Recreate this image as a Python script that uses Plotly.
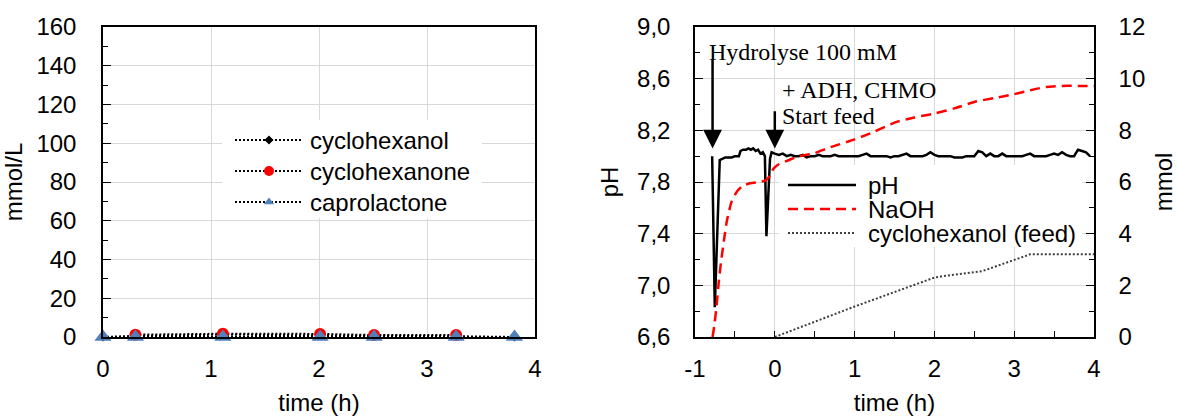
import plotly.graph_objects as go

# ---- left panel: sample analysis (mmol/L) ----
sample_time = [0, 0.30, 1.11, 2.01, 2.51, 3.27, 3.81]
cyclohexanol = [0.0, 0.6, 1.2, 1.0, 0.6, 0.4, 0.0]
cyclohexanone_time = [0.30, 1.11, 2.01, 2.51, 3.27]
cyclohexanone = [1.2, 1.7, 1.6, 1.0, 1.0]
caprolactone = [0, 0, 0, 0, 0, 0, 0]

# ---- right panel: reactor log ----
ph_time = [-0.785, -0.752, -0.69, -0.66, -0.62, -0.58, -0.54, -0.50, -0.45, -0.43,
           -0.40, -0.36, -0.33, -0.30, -0.27, -0.24, -0.21, -0.18, -0.15, -0.124,
           -0.105, -0.06, -0.04, 0.0, 0.05, 0.10, 0.15, 0.20, 0.25, 0.30,
           0.35, 0.40, 0.45, 0.50, 0.55, 0.60, 0.65, 0.70, 0.75, 0.80,
           0.85, 0.90, 0.95, 1.00, 1.05, 1.10, 1.15, 1.20, 1.25, 1.30,
           1.35, 1.40, 1.45, 1.50, 1.55, 1.60, 1.65, 1.70, 1.75, 1.80,
           1.85, 1.90, 1.95, 2.00, 2.05, 2.10, 2.15, 2.20, 2.25, 2.30,
           2.35, 2.40, 2.45, 2.50, 2.55, 2.60, 2.65, 2.70, 2.75, 2.80,
           2.85, 2.90, 2.95, 3.00, 3.05, 3.10, 3.15, 3.20, 3.25, 3.30,
           3.35, 3.40, 3.45, 3.50, 3.55, 3.60, 3.65, 3.70, 3.75, 3.80,
           3.85, 3.90, 3.95]
ph_value = [8.00, 6.83, 7.97, 7.98, 7.99, 7.99, 7.99, 8.00, 8.00, 8.04,
            8.05, 8.05, 8.06, 8.05, 8.06, 8.04, 8.05, 8.02, 8.03, 8.00,
            7.38, 7.98, 8.03, 8.02, 8.01, 8.02, 8.00, 8.01, 8.00, 8.00,
            8.01, 7.99, 8.00, 8.00, 8.01, 8.00, 8.00, 8.00, 8.01, 8.00,
            8.00, 8.00, 8.00, 8.00, 8.00, 8.01, 8.02, 8.00, 8.00, 8.00,
            8.00, 8.00, 7.99, 8.00, 8.00, 8.01, 8.02, 8.00, 8.00, 8.00,
            8.00, 8.01, 8.03, 8.01, 8.00, 8.00, 8.00, 8.00, 7.99, 7.99,
            7.99, 8.00, 8.00, 8.00, 8.04, 8.03, 8.00, 8.02, 8.00, 8.00,
            8.02, 8.00, 8.00, 8.00, 8.00, 8.00, 8.01, 8.02, 8.00, 8.00,
            8.00, 8.00, 8.01, 8.02, 8.01, 8.03, 8.01, 8.00, 8.00, 8.05,
            8.04, 8.03, 8.00]

naoh_time = [-0.78, -0.76, -0.73, -0.70, -0.67, -0.63, -0.60, -0.54, -0.47, -0.40,
             -0.31, -0.20, -0.12, -0.06, -0.02, 0.03, 0.10, 0.20, 0.31, 0.48,
             0.70, 1.00, 1.25, 1.50, 1.75, 2.00, 2.25, 2.50, 2.75, 3.00,
             3.20, 3.40, 3.60, 3.80, 4.00]
naoh_mmol = [0.0, 0.4, 1.2, 2.2, 3.0, 3.9, 4.5, 5.25, 5.65, 5.85,
             5.95, 6.0, 6.05, 6.25, 6.5, 6.65, 6.75, 6.88, 7.0, 7.1,
             7.35, 7.65, 7.95, 8.3, 8.5, 8.65, 8.85, 9.1, 9.25, 9.4,
             9.55, 9.68, 9.72, 9.72, 9.72]

feed_time = [0.0, 1.0, 2.0, 2.1, 2.6, 3.2, 4.0]
feed_mmol = [0.0, 1.18, 2.3, 2.35, 2.55, 3.2, 3.2]

# tick labels
left_x_ticks = [0, 1, 2, 3, 4]
right_x_ticks = [-1, 0, 1, 2, 3, 4]
right_x_labels = ["-1", "0", "1", "2", "3", "4"]

# event labels on the reactor log
events = ["Hydrolyse 100 mM", "+ ADH, CHMO", "Start feed"]

BLUE = "#4F81BD"
RED = "#FF0000"
GRID = "#d9d9d9"
SANS = "Liberation Sans, Arial, sans-serif"
SERIF = "Liberation Serif, Times New Roman, serif"
FS = 24
W, H = 1177, 416

# page geometry (px)
ML, MR, MT, MB = 103, W - 1094, 27, H - 337
PW = W - ML - MR
left_dom = [0, (535 - ML) / PW]
right_dom = [(695 - ML) / PW, 1]

DOT = "2px,2px"
left_styles = [
    dict(name="cyclohexanol", symbol="diamond", color="black", size=7, key_size=7),
    dict(name="cyclohexanone", symbol="circle", color=RED, size=12, key_size=10),
    dict(name="caprolactone", symbol="triangle-up", color=BLUE, size=15, key_size=9),
]
left_series = [(sample_time, cyclohexanol), (cyclohexanone_time, cyclohexanone),
               (sample_time, caprolactone)]

fig = go.Figure()

for st, (xs, ys) in zip(left_styles, left_series):
    fig.add_trace(go.Scatter(
        x=xs, y=ys, name=st["name"], mode="lines+markers",
        line=dict(color="black", width=2, dash=DOT),
        marker=dict(symbol=st["symbol"], size=st["size"], color=st["color"]),
        xaxis="x", yaxis="y", cliponaxis=False, showlegend=False))

right_styles = [
    dict(name="pH", line=dict(color="black", width=2.5)),
    dict(name="NaOH", line=dict(color=RED, width=2.5, dash="10px,6px")),
    dict(name="cyclohexanol (feed)", line=dict(color="#404040", width=2, dash=DOT)),
]

fig.add_trace(go.Scatter(
    x=ph_time, y=ph_value, name="pH", mode="lines", line=right_styles[0]["line"],
    xaxis="x2", yaxis="y2", showlegend=False))
fig.add_trace(go.Scatter(
    x=naoh_time, y=naoh_mmol, name="NaOH", mode="lines",
    line=dict(right_styles[1]["line"], shape="spline", smoothing=0.6),
    xaxis="x2", yaxis="y3", showlegend=False))
fig.add_trace(go.Scatter(
    x=feed_time, y=feed_mmol, name="cyclohexanol (feed)", mode="lines",
    line=right_styles[2]["line"], xaxis="x2", yaxis="y3", showlegend=False,
    cliponaxis=False))

# ---- legend boxes, drawn on a page-pixel overlay axis pair (x3 / y4) ----
def legend_box(x0, x1, y0, y1, key_x0, key_x1, text_x, rows, styles, with_markers):
    fig.add_trace(go.Scatter(
        x=[x0, x1, x1, x0, x0], y=[y0, y0, y1, y1, y0], mode="lines", fill="toself",
        fillcolor="white", line=dict(width=0), xaxis="x3", yaxis="y4",
        showlegend=False, hoverinfo="skip"))
    for ry, st in zip(rows, styles):
        line = st.get("line", dict(color="black", width=2, dash=DOT))
        fig.add_trace(go.Scatter(
            x=[key_x0, key_x1], y=[ry, ry], mode="lines", line=line,
            xaxis="x3", yaxis="y4", showlegend=False, hoverinfo="skip"))
        if with_markers:
            fig.add_trace(go.Scatter(
                x=[(key_x0 + key_x1) / 2], y=[ry], mode="markers",
                marker=dict(symbol=st["symbol"], size=st["key_size"], color=st["color"]),
                xaxis="x3", yaxis="y4", showlegend=False, hoverinfo="skip"))
        fig.add_annotation(x=text_x, y=ry, xref="x3", yref="y4", text=st["name"],
                           xanchor="left", yanchor="middle", showarrow=False,
                           font=dict(family=SANS, size=FS, color="black"))

legend_box(222, 482, 120, 218, 235, 303, 308, [140, 171, 202], left_styles, True)
legend_box(779, 1082, 165, 247, 788, 856, 866, [185, 209, 233], right_styles, False)

axis_common = dict(
    showline=True, linecolor="black", linewidth=1.5, mirror=True,
    showgrid=True, gridcolor=GRID, gridwidth=1, zeroline=False, automargin=False,
    tickfont=dict(family=SANS, size=FS, color="black"),
    title_font=dict(family=SANS, size=FS, color="black"),
)
minor_common = dict(ticks="inside", ticklen=5, tickcolor="black", showgrid=False)

fig.update_layout(
    width=W, height=H,
    margin=dict(l=ML, r=MR, t=MT, b=MB),
    paper_bgcolor="white", plot_bgcolor="rgba(0,0,0,0)",
    separators=", ",
    showlegend=False,
    xaxis=dict(axis_common, domain=left_dom, range=[0, 4],
               tickmode="array", tickvals=left_x_ticks,
               ticks="", ticklabelstandoff=9, anchor="y",
               title=dict(text="time (h)", standoff=18)),
    yaxis=dict(axis_common, domain=[0, 1], range=[0, 160], dtick=20,
               ticks="inside", ticklen=8, tickcolor="black", ticklabelstandoff=20,
               minor=dict(minor_common, dtick=10),
               anchor="x", title=dict(text="mmol/L", standoff=12)),
    xaxis2=dict(axis_common, domain=right_dom, range=[-1, 4],
                tickmode="array", tickvals=right_x_ticks, ticktext=right_x_labels,
                ticks="inside", ticklen=6, tickcolor="black", ticklabelstandoff=9,
                minor=dict(minor_common, tickvals=[-0.5, 0.5, 1.5, 2.5, 3.5], ticklen=6),
                anchor="y2", title=dict(text="time (h)", standoff=18)),
    yaxis2=dict(axis_common, domain=[0, 1], range=[6.6, 9.0], dtick=0.4,
                tick0=6.6, tickformat=".1f",
                ticks="inside", ticklen=8, tickcolor="black", ticklabelstandoff=18,
                minor=dict(minor_common, dtick=0.2),
                anchor="x2", title=dict(text="pH", standoff=12)),
    yaxis3=dict(axis_common, range=[0, 12], dtick=2, overlaying="y2", side="right",
                showgrid=False, mirror=False,
                ticks="inside", ticklen=8, tickcolor="black", ticklabelstandoff=18,
                minor=dict(minor_common, dtick=1),
                anchor="x2", title=dict(text="mmol", standoff=16)),
    # page-pixel overlay (plot area spans px ML..W-MR and MT..H-MB) for legend boxes
    xaxis3=dict(domain=[0, 1], range=[ML, W - MR], visible=False,
                fixedrange=True, anchor="y4"),
    yaxis4=dict(domain=[0, 1], range=[H - MB, MT],
                visible=False, fixedrange=True, anchor="x3"),
)

# event arrows and labels
fig.add_annotation(x=-0.78, y=8.06, ax=-0.78, ay=8.76, xref="x2", yref="y2",
                   axref="x2", ayref="y2", text="", showarrow=True,
                   arrowhead=2, arrowsize=1.5, arrowwidth=2.5, arrowcolor="black")
fig.add_annotation(x=0.0, y=8.06, ax=0.0, ay=8.36, xref="x2", yref="y2",
                   axref="x2", ayref="y2", text="", showarrow=True,
                   arrowhead=2, arrowsize=1.5, arrowwidth=2.5, arrowcolor="black")
for label, lx, ly in zip(events, [-0.845, 0.07, 0.07], [8.81, 8.51, 8.31]):
    fig.add_annotation(x=lx, y=ly, xref="x2", yref="y2", xanchor="left", yanchor="middle",
                       text=label, showarrow=False,
                       font=dict(family=SERIF, size=FS, color="black"))

fig.write_html("out.html")
